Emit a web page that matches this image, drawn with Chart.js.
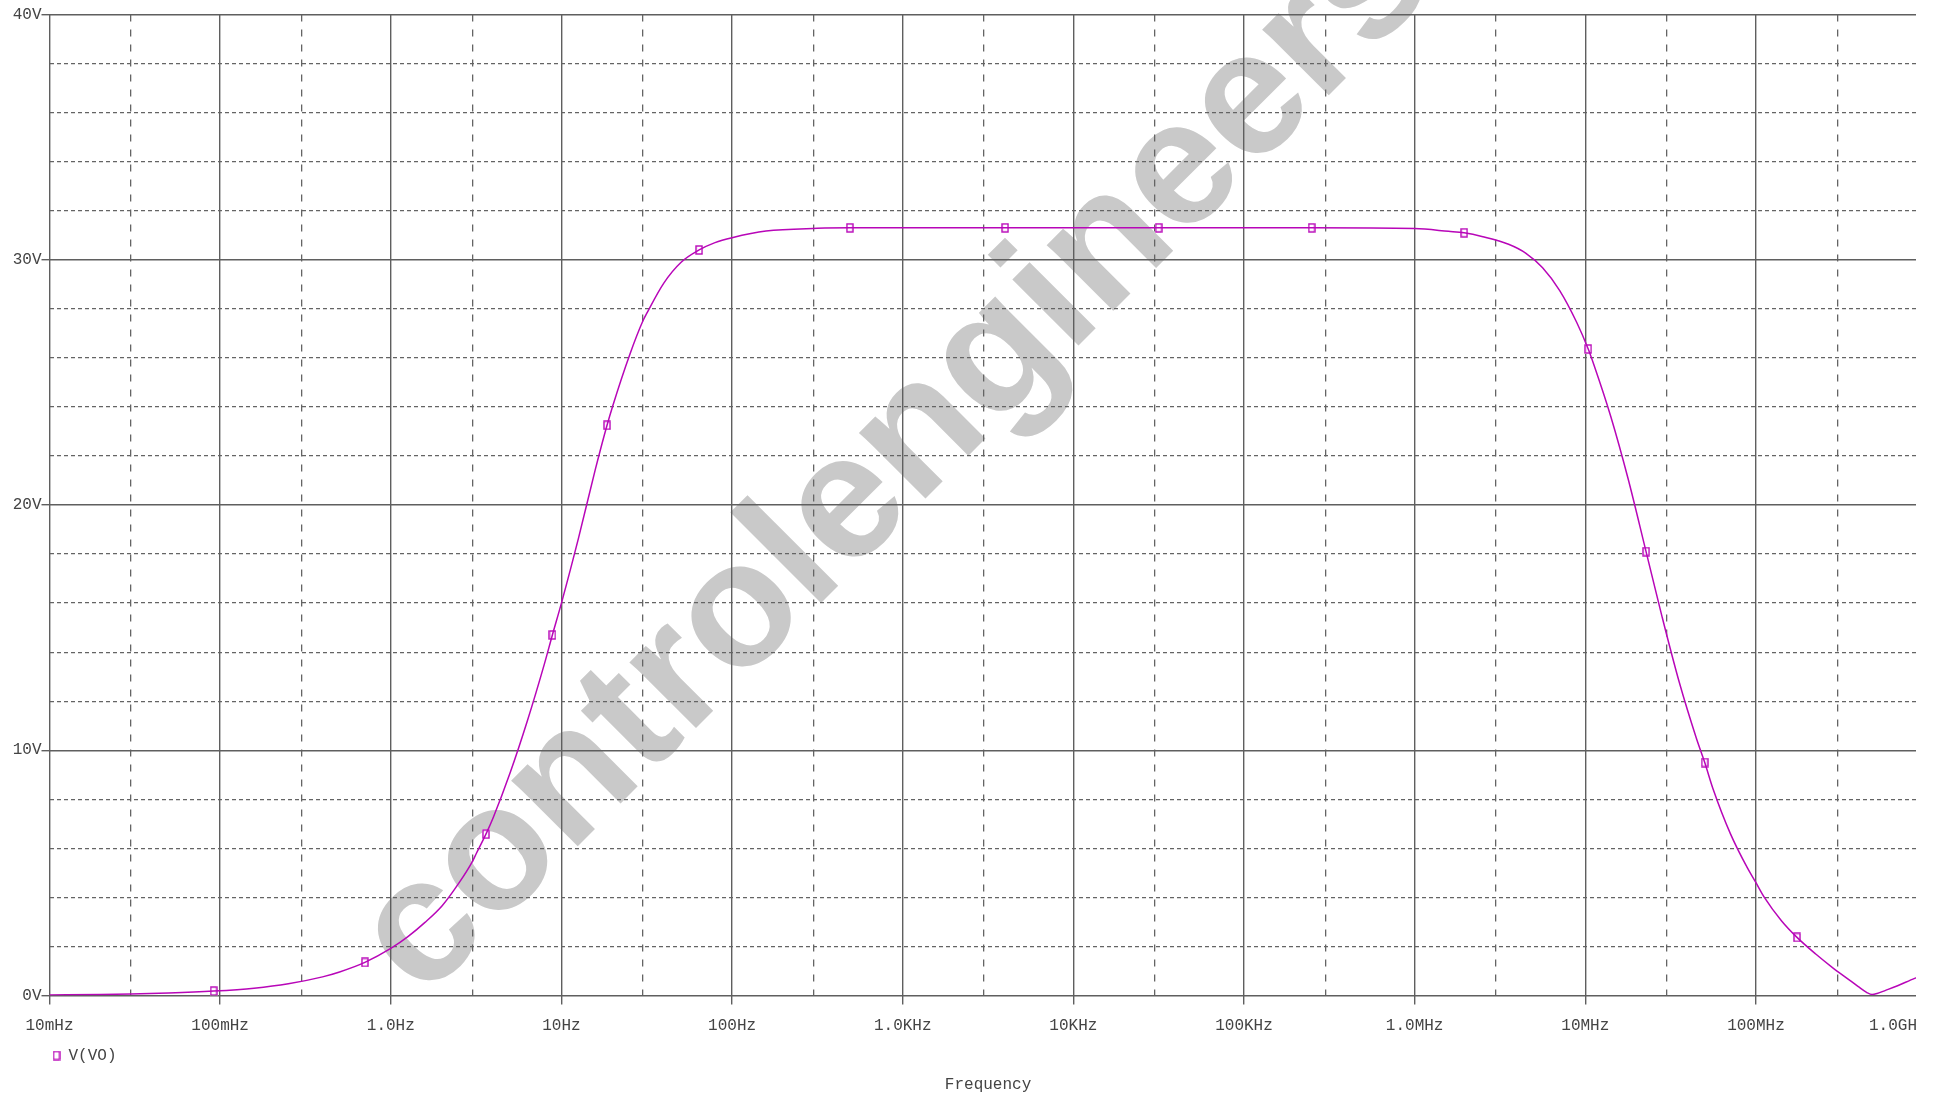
<!DOCTYPE html>
<html>
<head>
<meta charset="utf-8">
<title>V(VO) frequency response</title>
<script src="https://cdn.jsdelivr.net/npm/chart.js@4.4.1/dist/chart.umd.min.js"></script>
<style>
  html, body { margin: 0; padding: 0; background: #ffffff; }
  #frame { position: absolute; left: 0; top: 0; width: 1916px; height: 1095px; overflow: hidden; background: #ffffff; }
  #plot { position: absolute; left: 0; top: 0; }
</style>
</head>
<body>
<div id="frame"><canvas id="plot" width="1975" height="1095"></canvas></div>
<script>
// ---- AC sweep of V(VO) ----
const freqHz = [0.01, 0.02, 0.03, 0.05, 0.0916, 0.158, 0.251, 0.398, 0.501, 0.705,
  1.0, 1.26, 1.58, 2.0, 2.51, 3.0, 3.16, 3.61, 3.98, 5.01,
  6.31, 7.94, 8.85, 10, 12.6, 15.8, 18.5, 20.0, 25.1, 30,
  31.6, 39.8, 50.1, 64.1, 79.4, 100, 158, 316, 490, 3980,
  31600, 249000, 1.0e6, 1.58e6, 1.95e6, 2.51e6, 3.55e6, 4.47e6, 5.62e6, 7.08e6,
  8.91e6, 1.04e7, 1.12e7, 1.41e7, 1.78e7, 2.27e7, 2.82e7, 3.55e7, 4.47e7, 5.01e7,
  5.62e7, 7.08e7, 8.91e7, 1.0e8, 1.12e8, 1.41e8, 1.74e8, 2.24e8, 2.82e8, 3.55e8,
  3.98e8, 4.47e8, 4.79e8, 5.13e8, 5.75e8, 6.76e8, 8.51e8, 1.0e9];
const vOut = [0.02, 0.04, 0.06, 0.10, 0.18, 0.30, 0.48, 0.76, 0.96, 1.35,
  1.92, 2.40, 2.97, 3.66, 4.59, 5.45, 5.77, 6.58, 7.25, 9.09,
  11.19, 13.51, 14.7, 16.0, 18.66, 21.45, 23.25, 24.05, 26.12, 27.5,
  27.81, 29.05, 29.89, 30.4, 30.7, 30.9, 31.17, 31.28, 31.3, 31.3,
  31.3, 31.3, 31.27, 31.16, 31.1, 30.94, 30.63, 30.27, 29.67, 28.74,
  27.44, 26.36, 25.74, 23.61, 21.08, 18.1, 15.43, 12.78, 10.5, 9.5,
  8.4, 6.6, 5.2, 4.6, 4.0, 3.05, 2.37, 1.69, 1.13, 0.62,
  0.36, 0.12, 0.04, 0.08, 0.21, 0.40, 0.70, 0.88];
// samples that carry the trace symbol
const markerHz = [0.0916, 0.705, 3.61, 8.85, 18.5, 64.1, 490, 3980, 31600, 249000,
  1.95e6, 1.04e7, 2.27e7, 5.01e7, 1.74e8];

const traceName = 'V(VO)';
const xTitle = 'Frequency';

// axis divisions
const xMajorHz = [0.01, 0.1, 1, 10, 100, 1e3, 1e4, 1e5, 1e6, 1e7, 1e8, 1e9];
const xTickLabels = ['10mHz', '100mHz', '1.0Hz', '10Hz', '100Hz', '1.0KHz', '10KHz', '100KHz', '1.0MHz', '10MHz', '100MHz', '1.0GHz'];
const xMinorHz = [0.03, 0.3, 3, 30, 300, 3e3, 3e4, 3e5, 3e6, 3e7, 3e8];
const yMajorV = [0, 10, 20, 30, 40];
const yTickLabels = ['0V', '10V', '20V', '30V', '40V'];
const yMinorV = [2, 4, 6, 8, 12, 14, 16, 18, 22, 24, 26, 28, 32, 34, 36, 38];

// ---- styling ----
const traceColor = '#b806b8';
const majorGrid = '#5f5f5f';
const minorGrid = '#646464';
const textColor = '#444444';
const monoFont = '"Liberation Mono", "DejaVu Sans Mono", monospace';

// open square used as the trace symbol
function makeSymbol() {
  const c = document.createElement('canvas');
  c.width = 8; c.height = 10;
  const g = c.getContext('2d');
  g.fillStyle = '#ffffff';
  g.fillRect(0, 0, 8, 10);
  g.strokeStyle = traceColor;
  g.lineWidth = 1.4;
  g.strokeRect(1, 1, 6, 8);
  return c;
}
const symbol = makeSymbol();

const linePoints = freqHz.map((f, i) => ({ x: f, y: vOut[i] }));
const markerPoints = markerHz.map(f => ({ x: f, y: vOut[freqHz.indexOf(f)] }));

const isMajor = ctx => !!(ctx.tick && ctx.tick.major);

// faint diagonal site name behind the grid
const watermark = {
  id: 'watermark',
  beforeDraw(chart) {
    const ctx = chart.ctx;
    ctx.save();
    ctx.fillStyle = '#ffffff';
    ctx.fillRect(0, 0, chart.width, chart.height);
    ctx.translate(423, 1001);
    ctx.rotate(-Math.PI / 4);
    ctx.font = 'bold 177px "Liberation Sans", Arial, sans-serif';
    ctx.fillStyle = '#c9c9c9';
    ctx.textBaseline = 'alphabetic';
    ctx.fillText('controlengineers', 0, 0);
    ctx.restore();
  }
};

// trace key below the frequency labels
const traceKey = {
  id: 'traceKey',
  afterDraw(chart) {
    const ctx = chart.ctx;
    const area = chart.chartArea;
    const ds = chart.data.datasets[0];
    const x = area.left + 3, y = area.bottom + 60;
    ctx.save();
    ctx.drawImage(symbol, x, y - 5);
    ctx.font = '16px ' + monoFont;
    ctx.fillStyle = textColor;
    ctx.textBaseline = 'middle';
    ctx.textAlign = 'left';
    ctx.fillText(ds.label, x + 16, y);
    ctx.restore();
  }
};

const gridStyle = (tickLen) => ({
  color: ctx => isMajor(ctx) ? majorGrid : minorGrid,
  lineWidth: ctx => isMajor(ctx) ? 1.4 : 1.3,
  tickLength: tickLen,
  tickWidth: 1.4,
  tickColor: ctx => isMajor(ctx) ? majorGrid : 'rgba(0,0,0,0)',
  tickBorderDash: []
});

new Chart(document.getElementById('plot'), {
  type: 'line',
  data: {
    datasets: [
      {
        label: traceName,
        data: linePoints,
        borderColor: traceColor,
        borderWidth: 1.5,
        pointRadius: 0,
        cubicInterpolationMode: 'monotone',
        fill: false
      },
      {
        label: traceName + ' symbols',
        data: markerPoints,
        showLine: false,
        pointStyle: symbol,
        pointRadius: 5,
        borderColor: traceColor,
        backgroundColor: '#ffffff'
      }
    ]
  },
  options: {
    responsive: false,
    animation: false,
    events: [],
    layout: { padding: { left: 0, top: 14.5, right: 48.4, bottom: 0 } },
    plugins: { legend: { display: false }, tooltip: { enabled: false } },
    scales: {
      x: {
        type: 'logarithmic',
        min: 0.01,
        max: 1e9,
        afterBuildTicks(scale) {
          const minor = xMinorHz.map(v => ({ value: v, major: false, name: '' }));
          const major = xMajorHz.map((v, i) => ({ value: v, major: true, name: xTickLabels[i] }));
          scale.ticks = minor.concat(major);
        },
        afterFit(scale) { scale.height = 99.5; },
        ticks: {
          autoSkip: false,
          maxRotation: 0,
          align: 'inner',
          padding: 11.4,
          color: textColor,
          font: { family: monoFont, size: 16 },
          callback: (value, index, ticks) => ticks[index].name
        },
        grid: gridStyle(9),
        border: { display: false, dash: ctx => isMajor(ctx) ? [] : [7, 8] },
        title: {
          display: true,
          text: xTitle,
          color: textColor,
          font: { family: monoFont, size: 16 },
          padding: { top: 0, bottom: 1 }
        }
      },
      y: {
        type: 'linear',
        min: 0,
        max: 40,
        afterBuildTicks(scale) {
          const minor = yMinorV.map(v => ({ value: v, major: false, name: '' }));
          const major = yMajorV.map((v, i) => ({ value: v, major: true, name: yTickLabels[i] }));
          scale.ticks = minor.concat(major);
        },
        afterFit(scale) { scale.width = 49.5; },
        ticks: {
          padding: 0,
          color: textColor,
          font: { family: monoFont, size: 16 },
          callback: (value, index, ticks) => ticks[index].name
        },
        grid: gridStyle(8),
        border: { display: false, dash: ctx => isMajor(ctx) ? [] : [4, 3] }
      }
    }
  },
  plugins: [watermark, traceKey]
});
</script>
</body>
</html>
